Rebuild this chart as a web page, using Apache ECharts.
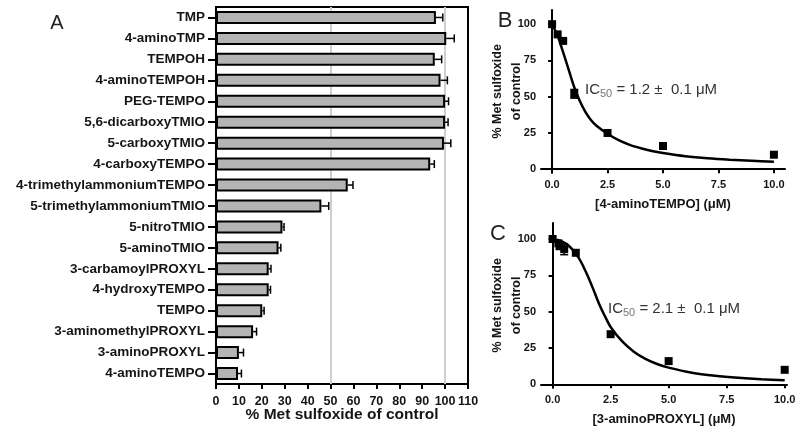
<!DOCTYPE html>
<html><head><meta charset="utf-8">
<script src="https://cdn.jsdelivr.net/npm/echarts@6/dist/echarts.min.js"></script>
<style>html,body{margin:0;padding:0;background:#fff}#c{width:800px;height:435px}</style>
</head><body><div id="c"></div>
<script>
// ---- Panel A data ----
const categories = ['TMP','4-aminoTMP','TEMPOH','4-aminoTEMPOH','PEG-TEMPO','5,6-dicarboxyTMIO','5-carboxyTMIO','4-carboxyTEMPO','4-trimethylammoniumTEMPO','5-trimethylammoniumTMIO','5-nitroTMIO','5-aminoTMIO','3-carbamoylPROXYL','4-hydroxyTEMPO','TEMPO','3-aminomethylPROXYL','3-aminoPROXYL','4-aminoTEMPO'];
const barValues = [96, 100.5, 95.5, 98, 100, 100, 99.5, 93.5, 57.5, 46, 29, 27.3, 23, 23, 20.2, 16.2, 10, 9.6];
const barErrors = [3, 3.5, 3, 3, 1.5, 1.3, 3, 1.8, 2.3, 3.2, 0.7, 1, 1, 0.8, 0.8, 1.5, 2, 1.5];
const refLinesA = [50, 100];

// ---- Panel B data ----
const bPointX = [0, 0.25, 0.5, 1, 2.5, 5, 10];
const bPointY = [100, 93, 88.5, 52, 25, 16, 10];
const bErrX = [1];
const bErrY = [52];
const bErrE = [3];
const bCurveX = [0, 0.25, 0.5, 0.75, 1, 1.25, 1.5, 1.75, 2, 2.5, 3, 3.5, 4, 4.5, 5, 6, 7, 8, 9, 10];
const bCurveY = [100, 92, 80.5, 68.5, 56.5, 47, 39.5, 34, 30, 24.5, 20, 16.8, 14.5, 12.6, 11.2, 9, 7.5, 6.5, 5.8, 5.2];

// ---- Panel C data ----
const cPointX = [0, 0.25, 0.3, 0.5, 1, 2.5, 5, 10];
const cPointY = [100, 97, 95, 93, 90.5, 34.5, 16, 10];
const cErrX = [0.5];
const cErrY = [93];
const cErrE = [3.8];
const cCurveX = [0, 0.25, 0.5, 0.75, 1, 1.25, 1.5, 1.75, 2, 2.25, 2.5, 3, 3.5, 4, 4.5, 5, 6, 7, 8, 9, 10];
const cCurveY = [100, 99.2, 97.5, 94.5, 90, 83.5, 75, 65.5, 55.5, 47, 39.5, 29.5, 22.5, 17.5, 14, 11.5, 8, 5.9, 4.5, 3.5, 2.8];

const xTicksBC = [0, 2.5, 5, 7.5, 10];
const yTicksBC = [0, 25, 50, 75, 100];

const FONT = '"Liberation Sans", Arial, Helvetica, sans-serif';
const TXT = '#151515';
const axLine = {show: true, lineStyle: {color: '#000', width: 2}};

const chart = echarts.init(document.getElementById('c'), null, {renderer: 'canvas'});

function pairs(xs, ys) { return xs.map((x, i) => [x, ys[i]]); }

function vErrRender(params, api) {
  const x = api.value(0), y = api.value(1), e = api.value(2);
  const top = api.coord([x, y + e]);
  const bot = api.coord([x, y - e]);
  const st = {stroke: '#000', lineWidth: 1.5};
  return {type: 'group', children: [
    {type: 'line', shape: {x1: top[0], y1: top[1], x2: bot[0], y2: bot[1]}, style: st},
    {type: 'line', shape: {x1: top[0] - 4, y1: top[1], x2: top[0] + 4, y2: top[1]}, style: st},
    {type: 'line', shape: {x1: bot[0] - 4, y1: bot[1], x2: bot[0] + 4, y2: bot[1]}, style: st}
  ]};
}

function bcXAxis(gi, max, nameText) {
  return {
    type: 'value', gridIndex: gi, min: -0.5, max: max,
    axisLine: axLine,
    axisTick: {show: true, length: 4, lineStyle: {color: '#000', width: 2}, customValues: xTicksBC},
    axisLabel: {show: true, customValues: xTicksBC, margin: 7, color: TXT, fontFamily: FONT, fontWeight: 'bold', fontSize: 11,
      formatter: v => Number(v).toFixed(1)},
    splitLine: {show: false},
    name: nameText, nameLocation: 'middle', nameGap: 25, nameMoveOverlap: false,
    nameTextStyle: {color: TXT, fontFamily: FONT, fontWeight: 'bold', fontSize: 13}
  };
}
function bcYAxis(gi, min, max) {
  return {
    type: 'value', gridIndex: gi, min: min, max: max,
    axisLine: axLine,
    axisTick: {show: true, length: 4, lineStyle: {color: '#000', width: 2}, customValues: yTicksBC},
    axisLabel: {show: true, customValues: yTicksBC, margin: 5, color: TXT, fontFamily: FONT, fontWeight: 'bold', fontSize: 11},
    splitLine: {show: false},
    name: '% Met sulfoxide\nof control', nameLocation: 'middle', nameRotate: 90, nameGap: 15, nameMoveOverlap: false,
    nameTextStyle: {color: TXT, fontFamily: FONT, fontWeight: 'bold', fontSize: 12.5, lineHeight: 19}
  };
}

const ic50Rich = {
  a: {fontSize: 15, fontFamily: FONT, fill: '#333', color: '#333', lineHeight: 18},
  s: {fontSize: 11, fontFamily: FONT, fill: '#777', color: '#777', lineHeight: 12, verticalAlign: 'bottom'}
};

const option = {
  animation: false,
  backgroundColor: '#fff',
  grid: [
    {left: 216, top: 7, width: 252, height: 377, show: true, borderColor: '#000', borderWidth: 2, backgroundColor: 'transparent', containLabel: false, outerBoundsMode: 'none'},
    {left: 541, top: 10, width: 244, height: 162.7, containLabel: false, outerBoundsMode: 'none'},
    {left: 541, top: 223, width: 246, height: 164.7, containLabel: false, outerBoundsMode: 'none'}
  ],
  xAxis: [
    {
      type: 'value', gridIndex: 0, min: 0, max: 110, interval: 10,
      axisLine: axLine,
      axisTick: {show: true, length: 5, lineStyle: {color: '#000', width: 2}},
      axisLabel: {margin: 11, color: TXT, fontFamily: FONT, fontWeight: 'bold', fontSize: 12.5, showMinLabel: true, showMaxLabel: true},
      splitLine: {show: false},
      name: '% Met sulfoxide of control', nameLocation: 'middle', nameGap: 23, nameMoveOverlap: false,
      nameTextStyle: {color: TXT, fontFamily: FONT, fontWeight: 'bold', fontSize: 15.5}
    },
    bcXAxis(1, 10.5, '[4-aminoTEMPO] (μM)'),
    bcXAxis(2, 10.1, '[3-aminoPROXYL] (μM)')
  ],
  yAxis: [
    {
      type: 'category', gridIndex: 0, data: categories, inverse: true,
      axisLine: axLine,
      axisTick: {show: true, alignWithLabel: true, length: 8, lineStyle: {color: '#000', width: 2}},
      axisLabel: {margin: 11, color: TXT, fontFamily: FONT, fontWeight: 'bold', fontSize: 13.5, interval: 0},
      splitLine: {show: false}
    },
    bcYAxis(1, -2.4, 109.8),
    bcYAxis(2, -2.3, 111)
  ],
  series: [
    {
      type: 'bar', xAxisIndex: 0, yAxisIndex: 0, data: barValues, barWidth: 13, z: 3,
      itemStyle: {color: '#b4b4b4', borderColor: '#000', borderWidth: 2},
      markLine: {
        silent: true, symbol: 'none', z: 1, animation: false,
        label: {show: false},
        lineStyle: {color: '#cfcfcf', width: 2, type: 'solid'},
        data: refLinesA.map(v => ({xAxis: v}))
      }
    },
    {
      type: 'custom', xAxisIndex: 0, yAxisIndex: 0, z: 4,
      data: barValues.map((v, i) => [v, i, barErrors[i]]),
      encode: {x: 0, y: 1},
      renderItem: function (params, api) {
        const v = api.value(0), i = api.value(1), e = api.value(2);
        const p0 = api.coord([v, i]);
        const p1 = api.coord([v + e, i]);
        const st = {stroke: '#000', lineWidth: 1.5};
        return {type: 'group', children: [
          {type: 'line', shape: {x1: p0[0], y1: p0[1], x2: p1[0], y2: p1[1]}, style: st},
          {type: 'line', shape: {x1: p1[0], y1: p1[1] - 4, x2: p1[0], y2: p1[1] + 4}, style: st}
        ]};
      }
    },
    {
      type: 'line', xAxisIndex: 1, yAxisIndex: 1, data: pairs(bCurveX, bCurveY),
      smooth: 0.3, showSymbol: false, symbol: 'none',
      lineStyle: {color: '#000', width: 2.5}, z: 3
    },
    {
      type: 'scatter', xAxisIndex: 1, yAxisIndex: 1, data: pairs(bPointX, bPointY),
      symbol: 'rect', symbolSize: 8, itemStyle: {color: '#000', opacity: 1}, z: 4
    },
    {
      type: 'custom', xAxisIndex: 1, yAxisIndex: 1, z: 4,
      data: bErrX.map((x, i) => [x, bErrY[i], bErrE[i]]), encode: {x: 0, y: 1},
      renderItem: vErrRender
    },
    {
      type: 'line', xAxisIndex: 2, yAxisIndex: 2, data: pairs(cCurveX, cCurveY),
      smooth: 0.3, showSymbol: false, symbol: 'none',
      lineStyle: {color: '#000', width: 2.5}, z: 3
    },
    {
      type: 'scatter', xAxisIndex: 2, yAxisIndex: 2, data: pairs(cPointX, cPointY),
      symbol: 'rect', symbolSize: 8, itemStyle: {color: '#000', opacity: 1}, z: 4
    },
    {
      type: 'custom', xAxisIndex: 2, yAxisIndex: 2, z: 4,
      data: cErrX.map((x, i) => [x, cErrY[i], cErrE[i]]), encode: {x: 0, y: 1},
      renderItem: vErrRender
    }
  ],
  graphic: [
    {type: 'text', x: 57, y: 23, style: {text: 'A', fontSize: 20, fontFamily: FONT, fill: '#222', align: 'center', verticalAlign: 'middle'}},
    {type: 'text', x: 505, y: 21, style: {text: 'B', fontSize: 22, fontFamily: FONT, fill: '#222', align: 'center', verticalAlign: 'middle'}},
    {type: 'text', x: 498, y: 234, style: {text: 'C', fontSize: 22, fontFamily: FONT, fill: '#222', align: 'center', verticalAlign: 'middle'}},
    {type: 'text', x: 585, y: 90, style: {text: '{a|IC}{s|50}{a| = 1.2 ±  0.1 μM}', rich: ic50Rich, verticalAlign: 'middle', align: 'left'}},
    {type: 'text', x: 608, y: 309, style: {text: '{a|IC}{s|50}{a| = 2.1 ±  0.1 μM}', rich: ic50Rich, verticalAlign: 'middle', align: 'left'}}
  ]
};
chart.setOption(option);
</script>
</body></html>
